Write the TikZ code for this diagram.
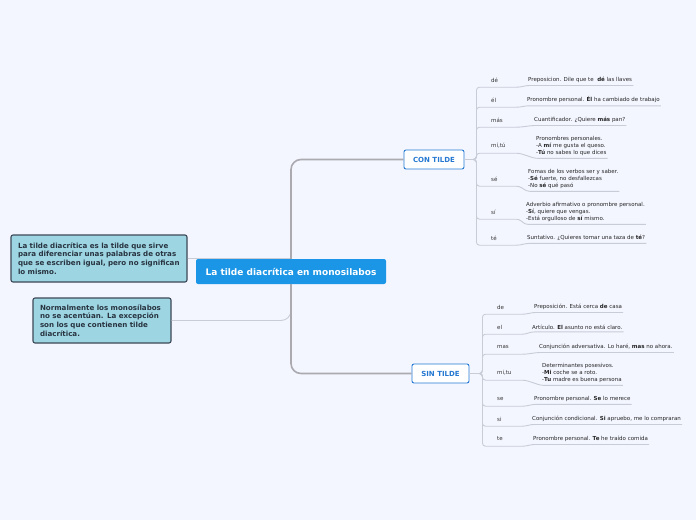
\documentclass[tikz,border=0pt]{standalone}
\usepackage{fontspec}
\setmainfont{DejaVu Sans}

\definecolor{bgcol}{RGB}{243,246,255}
\definecolor{mainblue}{RGB}{27,150,230}
\definecolor{notefill}{RGB}{158,213,227}
\definecolor{notedraw}{RGB}{60,72,86}
\definecolor{notetext}{RGB}{40,52,64}
\definecolor{subblue}{RGB}{36,120,210}
\definecolor{trunkgray}{RGB}{170,170,176}
\definecolor{twiggray}{RGB}{200,204,214}

\begin{document}
\begin{tikzpicture}[x=1pt, y=-1pt]

\tikzset{central/.style = {fill=mainblue, text=white, rounded corners=2pt, inner sep=0pt,
    minimum width=190pt, minimum height=25pt, font=\fontsize{9}{11}\selectfont\bfseries}}
\tikzset{note/.style = {draw=notedraw, line width=1.1pt, fill=notefill, rounded corners=2pt,
    text=notetext, align=left, inner xsep=7pt, font=\fontsize{7.1}{8.7}\selectfont\bfseries}}
\tikzset{group/.style = {draw=subblue, line width=0.9pt, fill=white, rounded corners=2pt,
    text=subblue, minimum height=19pt, inner sep=0pt, font=\fontsize{7}{8}\selectfont\bfseries}}
\tikzset{word/.style = {anchor=west, inner sep=0pt, minimum height=14pt, text width=28pt,
    text=black!80, font=\fontsize{5.5}{7}\selectfont}}
\tikzset{gloss/.style = {anchor=west, inner xsep=1pt, inner ysep=2.5pt, align=left,
    text=black!85, font=\fontsize{5.5}{7}\selectfont}}
\tikzset{trunk/.style = {draw=trunkgray, line width=1.6pt, rounded corners=10pt}}
\tikzset{leaf/.style = {draw=twiggray, line width=0.9pt, rounded corners=10pt}}
\tikzset{twig/.style = {draw=twiggray, line width=0.9pt, rounded corners=3pt}}

\fill[bgcol] (0,0) rectangle (696,520);
\useasboundingbox (0,0) rectangle (696,520);

% main nodes
\node[central] (title) at (291,271.5) {La tilde diacrítica en monosilabos};
\node[note, text width=162pt, minimum width=176pt, minimum height=47pt] (note1) at (99,258.5)
    {La tilde diacrítica es la tilde que sirve\\para diferenciar unas palabras de otras\\que se escriben igual, pero no significan\\lo mismo.};
\node[note, text width=124pt, minimum width=138pt, minimum height=45pt] (note2) at (102,320.5)
    {Normalmente los monosílabos\\no se acentúan. La excepción\\son los que contienen tilde\\diacrítica.};
\node[group, minimum width=60pt] (con) at (434,159.5) {CON TILDE};
\node[group, minimum width=57pt] (sin) at (440.5,373.5) {SIN TILDE};

% con tilde
\node[word] (cde) at (491,80) {dé};
\node[gloss] (cdeT) at (527,80) {Preposicion. Dile que te \ \textbf{dé} las llaves};
\node[word] (cel) at (491,100) {él};
\node[gloss] (celT) at (526,100) {Pronombre personal. \textbf{Él} ha cambiado de trabajo};
\node[word] (cmas) at (491,120) {más};
\node[gloss] (cmasT) at (533,120) {Cuantificador. ¿Quiere \textbf{más} pan?};
\node[word] (cmitu) at (491,146) {mí,tú};
\node[gloss] (cmituT) at (535,146) {Pronombres personales.\\-A \textbf{mí} me gusta el queso.\\-\textbf{Tú} no sabes lo que dices};
\node[word] (cse) at (491,179) {sé};
\node[gloss] (cseT) at (527,179) {Fomas de los verbos ser y saber.\\-\textbf{Sé} fuerte, no desfallezcas\\-No \textbf{sé} qué pasó};
\node[word] (csi) at (491,212) {sí};
\node[gloss] (csiT) at (525,212) {Adverbio afirmativo o pronombre personal.\\-\textbf{Sí}, quiere que vengas.\\-Está orgulloso de \textbf{sí} mismo.};
\node[word] (cte) at (491,238) {té};
\node[gloss] (cteT) at (526,238) {Suntativo. ¿Quieres tomar una taza de \textbf{té}?};

% sin tilde
\node[word] (sde) at (497,307) {de};
\node[gloss] (sdeT) at (533,307) {Preposición. Está cerca \textbf{de} casa};
\node[word] (sel) at (497,327) {el};
\node[gloss] (selT) at (531,327) {Artículo. \textbf{El} asunto no está claro.};
\node[word] (smas) at (497,347) {mas};
\node[gloss] (smasT) at (538,347) {Conjunción adversativa. Lo haré, \textbf{mas} no ahora.};
\node[word] (smitu) at (497,373) {mi,tu};
\node[gloss] (smituT) at (541,373) {Determinantes posesivos.\\-\textbf{Mi} coche se a roto.\\-\textbf{Tu} madre es buena persona};
\node[word] (sse) at (497,399) {se};
\node[gloss] (sseT) at (533,399) {Pronombre personal. \textbf{Se} lo merece};
\node[word] (ssi) at (497,419) {si};
\node[gloss] (ssiT) at (531,419) {Conjunción condicional. \textbf{Si} apruebo, me lo compraran};
\node[word] (ste) at (497,439) {te};
\node[gloss] (steT) at (532,439) {Pronombre personal. \textbf{Te} he traído comida};

% edges
\draw[leaf] (note1.east) -- (note1.east -| title.north);
\draw[leaf] (title.south) |- (note2.east);
\draw[trunk] (title.north) |- (con.west);
\draw[trunk] (title.south) |- (sin.west);

\foreach \n in {cde,cel,cmas,cmitu,cse,csi,cte}
  \draw[twig] (con.east) -- ++(12,0) |- (\n.south west) -- (\n.south east) -- (\n T.south west) -- (\n T.south east);
\foreach \n in {sde,sel,smas,smitu,sse,ssi,ste}
  \draw[twig] (sin.east) -- ++(13,0) |- (\n.south west) -- (\n.south east) -- (\n T.south west) -- (\n T.south east);

\end{tikzpicture}
\end{document}
